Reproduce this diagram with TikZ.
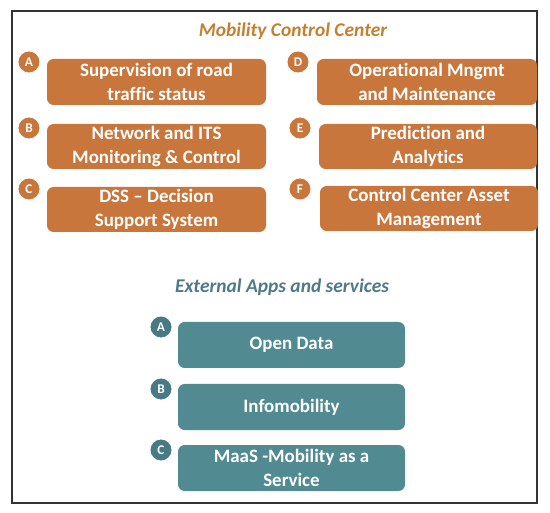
\documentclass[tikz,border=0pt]{standalone}
\usepackage{fontspec}
\setmainfont[Ligatures=NoCommon]{Carlito}
\definecolor{orbox}{RGB}{200,118,60}
\definecolor{ortitle}{RGB}{196,128,48}
\definecolor{tlbox}{RGB}{82,138,146}
\definecolor{tltitle}{RGB}{78,122,134}
\definecolor{tlcirc}{RGB}{72,122,132}
\begin{document}
\begin{tikzpicture}[x=0.75pt,y=-0.75pt,
  box/.style={rounded corners=5pt,text=white,font=\bfseries\fontsize{14.2}{17.5}\selectfont,align=center,inner sep=0pt},
  obox/.style={box,fill=orbox},
  tbox/.style={box,fill=tlbox},
  badge/.style={circle,minimum size=16.5pt,inner sep=0pt,text=white,font=\bfseries\fontsize{10}{11}\selectfont,draw=white,line width=0.6pt},
  obadge/.style={badge,fill=orbox},
  tbadge/.style={badge,fill=tlcirc},
  ttl/.style={font=\bfseries\itshape\fontsize{14.6}{17}\selectfont}]
\useasboundingbox (0,0) rectangle (550,513);
\node[draw=black!80,line width=1pt,minimum width=525*0.75pt,minimum height=492*0.75pt,inner sep=0pt] (frame) at (274.5,257) {};
\node[ttl,text=ortitle] (t1) at (293,31) {Mobility Control Center};
% left column
\node[obox,minimum width=219*0.75pt,minimum height=46*0.75pt] (a) at (156.5,82) {Supervision of road\\traffic status};
\node[obox,minimum width=219*0.75pt,minimum height=45*0.75pt] (b) at (156.5,146.5) {Network and ITS\\Monitoring \& Control};
\node[obox,minimum width=219*0.75pt,minimum height=45*0.75pt] (c) at (156.5,209.5) {DSS -- Decision\\Support System};
\node[obadge] (ca) at (29,62) {A};
\node[obadge] (cb) at (29,128) {B};
\node[obadge] (cc) at (29,189) {C};
% right column
\node[obox,minimum width=220*0.75pt,minimum height=46*0.75pt] (d) at (427,82) {Operational Mngmt\\and Maintenance};
\node[obox,minimum width=218*0.75pt,minimum height=45*0.75pt] (e) at (428,146.5) {Prediction and\\Analytics};
\node[obox,minimum width=218*0.75pt,minimum height=45*0.75pt] (f) at (429,208.5) {Control Center Asset\\Management};
\node[obadge] (cd) at (298,62) {D};
\node[obadge] (ce) at (300,128) {E};
\node[obadge] (cf) at (300,189) {F};
% external
\node[ttl,text=tltitle] (t2) at (282,287) {External Apps and services};
\node[tbox,minimum width=227*0.75pt,minimum height=46*0.75pt] (g) at (291.5,345) {Open Data};
\node[tbox,minimum width=227*0.75pt,minimum height=46*0.75pt] (h) at (291.5,407) {Infomobility};
\node[tbox,minimum width=227*0.75pt,minimum height=46*0.75pt] (i) at (291.5,468) {MaaS -Mobility as a\\Service};
\node[tbadge] (cg) at (161,327) {A};
\node[tbadge] (ch) at (161,389) {B};
\node[tbadge] (ci) at (161,450) {C};
\end{tikzpicture}
\end{document}
